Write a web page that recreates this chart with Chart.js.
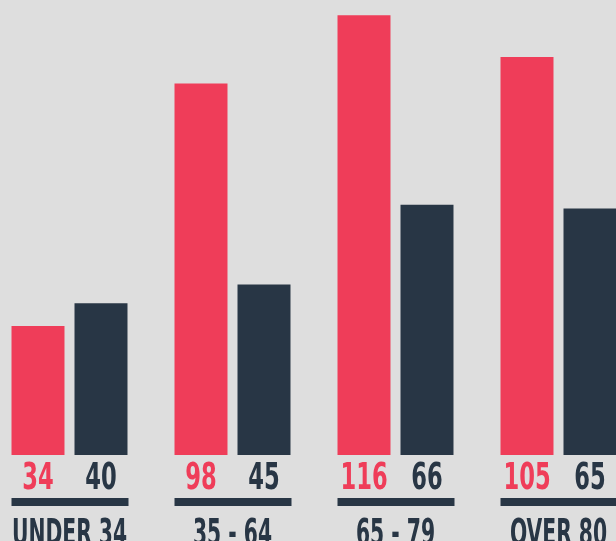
<!DOCTYPE html>
<html>
<head>
<meta charset="utf-8">
<script src="https://cdn.jsdelivr.net/npm/chart.js@4/dist/chart.umd.min.js"></script>
<style>
  html, body { margin: 0; padding: 0; background: #dedede; overflow: hidden; }
  #wrap { position: absolute; left: -12px; top: 0; width: 652px; height: 541px; }
</style>
</head>
<body>
<div id="wrap"><canvas id="chart"></canvas></div>
<script>
const categories = ["UNDER 34", "35 - 64", "65 - 79", "OVER 80"];
const redValues = [34, 98, 116, 105];
const darkValues = [40, 45, 66, 65];

const RED = "#ef3d59";
const DARK = "#283645";
const FONT = '"DejaVu Sans Condensed", "DejaVu Sans", sans-serif';

// squeeze text horizontally, the original face is very narrow
function drawNarrow(ctx, text, x, y, size, color, squeeze) {
  ctx.save();
  ctx.font = "bold " + size + "px " + FONT;
  ctx.fillStyle = color;
  ctx.textAlign = "center";
  ctx.textBaseline = "alphabetic";
  ctx.translate(x, y);
  ctx.scale(squeeze, 1);
  ctx.fillText(text, 0, 0);
  ctx.restore();
}

const labelsPlugin = {
  id: "labelsBelow",
  afterDatasetsDraw(chart) {
    const ctx = chart.ctx;
    const redBars = chart.getDatasetMeta(0).data;
    const darkBars = chart.getDatasetMeta(1).data;
    categories.forEach((cat, i) => {
      const r = redBars[i], d = darkBars[i];
      drawNarrow(ctx, String(redValues[i]), r.x, 489, 37, RED, 0.68);
      drawNarrow(ctx, String(darkValues[i]), d.x, 489, 37, DARK, 0.68);
      const left = r.x - r.width / 2;
      const right = d.x + d.width / 2;
      ctx.fillStyle = DARK;
      ctx.fillRect(left, 498, right - left + 1, 8);
      drawNarrow(ctx, cat, (left + right) / 2, 545, 37, DARK, 0.61);
    });
  }
};

new Chart(document.getElementById("chart"), {
  type: "bar",
  data: {
    labels: categories,
    datasets: [
      { data: redValues, backgroundColor: RED, barPercentage: 0.841, categoryPercentage: 0.773 },
      { data: darkValues, backgroundColor: DARK, barPercentage: 0.841, categoryPercentage: 0.773 },
    ],
  },
  options: {
    responsive: true,
    maintainAspectRatio: false,
    animation: false,
    layout: { padding: { top: 0, bottom: 86, left: 0, right: 0 } },
    plugins: { legend: { display: false }, tooltip: { enabled: false } },
    scales: {
      x: { display: false },
      y: { display: false, min: 0, max: 120 },
    },
  },
  plugins: [labelsPlugin],
});
</script>
</body>
</html>
